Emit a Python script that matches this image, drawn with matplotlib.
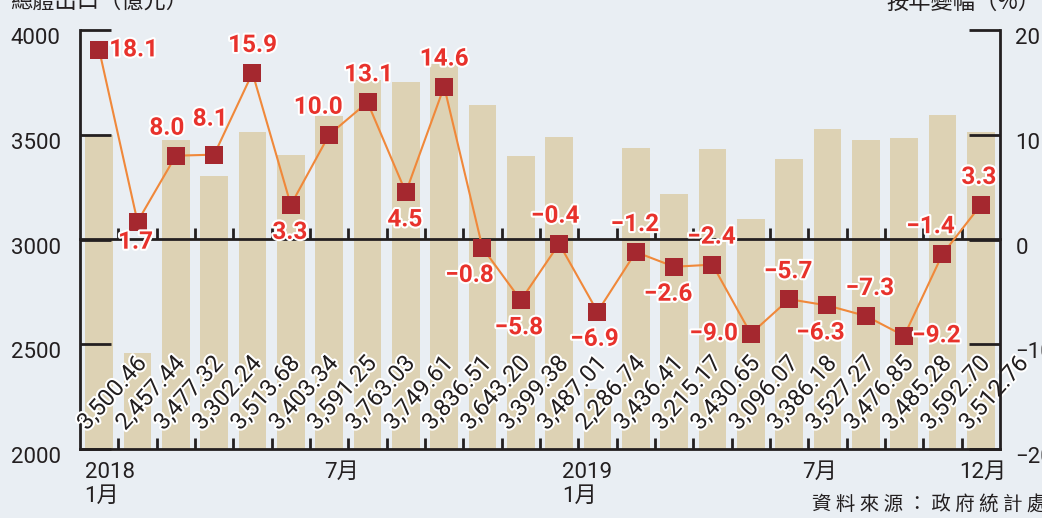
import matplotlib
matplotlib.use("Agg")
import matplotlib.pyplot as plt
import matplotlib.patheffects as pe
import matplotlib.transforms as mtransforms
from matplotlib import font_manager
import numpy as np

# 總體出口 (億元), 2018年1月 - 2019年12月
months = ["2018-01", "2018-02", "2018-03", "2018-04", "2018-05", "2018-06",
          "2018-07", "2018-08", "2018-09", "2018-10", "2018-11", "2018-12",
          "2019-01", "2019-02", "2019-03", "2019-04", "2019-05", "2019-06",
          "2019-07", "2019-08", "2019-09", "2019-10", "2019-11", "2019-12"]
exports = [3500.46, 2457.44, 3477.32, 3302.24, 3513.68, 3403.34,
           3591.25, 3763.03, 3749.61, 3836.51, 3643.20, 3399.38,
           3487.01, 2286.74, 3436.41, 3215.17, 3430.65, 3096.07,
           3386.18, 3527.27, 3476.85, 3485.28, 3592.70, 3512.76]
# 按年變幅 (%)
yoy = [18.1, 1.7, 8.0, 8.1, 15.9, 3.3, 10.0, 13.1, 4.5, 14.6, -0.8, -5.8,
       -0.4, -6.9, -1.2, -2.6, -2.4, -9.0, -5.7, -6.3, -7.3, -9.2, -1.4, 3.3]

xtick_text = ["2018\n1月", "7月", "2019\n1月", "7月", "12月"]

# where each red label sits relative to its marker (a=above, b=below, l=left, r=right)
label_side = ["r", "b", "a", "a", "a", "b", "a", "a", "b", "a", "b", "b",
              "a", "b", "a", "b", "a", "l", "a", "b", "a", "r", "a", "a"]
label_dx = [10, -2, -9, -4, 0, -1, -11, 1, -1, 0, -13, -2,
            -4, -3, -1, -6, -1, -13, -1, -7, 4, 8, -12, -2]

names = {f.name for f in font_manager.fontManager.ttflist}
NARROW = "Liberation Sans Narrow" if "Liberation Sans Narrow" in names else "Roboto"
CJK = "Noto Sans CJK TC"

BG = "#e9eef3"
BAR = "#ddd2b4"
MARK = "#a5282f"
RED = "#e8322c"
LINE = "#f0883a"
INK = "#231f20"

plt.rcParams["font.family"] = [NARROW, CJK, "DejaVu Sans"]

fig = plt.figure(figsize=(10.42, 5.18), dpi=100, facecolor=BG)
ax = fig.add_axes([80 / 1042, 1 - 449 / 518, 920 / 1042, 419 / 518])
ax.set_facecolor(BG)

x = np.arange(len(months))
ax.bar(x, exports, width=0.73, color=BAR, zorder=1)
ax.set_xlim(-0.5, len(months) - 0.5)
ax.set_ylim(2000, 4000)
ax.set_yticks([2000, 2500, 3000, 3500, 4000])

stroke_w = [pe.withStroke(linewidth=3, foreground="white")]
for i, v in enumerate(exports):
    ax.text(i - 0.32, 2085, f"{v:,.2f}", rotation=48, rotation_mode="anchor",
            ha="left", va="baseline", fontsize=17, color=INK,
            path_effects=stroke_w, zorder=3)

# x axis: label ticks and small marks between the bars
ax.set_xticks([0.27, 6.33, 12.73, 18.78, 23.06])
ax.set_xticklabels(xtick_text, multialignment="left", linespacing=1.2)
ax.set_xticks(x[:-1] + 0.5, minor=True)
ax.tick_params(axis="x", which="major", length=0, pad=9, labelsize=16, colors=INK)
ax.tick_params(axis="x", which="minor", direction="in", length=8, width=2, color=INK)
ax.tick_params(axis="y", direction="in", length=22, width=2, pad=14, labelsize=16,
               colors=INK)

for s in ["top", "right"]:
    ax.spines[s].set_visible(False)
for s in ["left", "bottom"]:
    ax.spines[s].set_linewidth(2)
    ax.spines[s].set_color(INK)

# zero line with its own tick marks
zero = ax.secondary_xaxis(0.5)
zero.set_xticks(x[:-1] + 0.5)
zero.set_xticklabels([])
zero.tick_params(direction="out", length=8, width=2, color=INK)
for s in zero.spines.values():
    s.set_linewidth(2)
    s.set_color(INK)
zero.set_zorder(2)

ax2 = ax.twinx()
ax2.set_ylim(-20, 20)
ax2.set_yticks([-20, -10, 0, 10, 20])
ax2.set_yticklabels([f"{t}".replace("-", "−") for t in [-20, -10, 0, 10, 20]])
ax2.tick_params(axis="y", direction="in", length=22, width=2, pad=11, labelsize=16,
                colors=INK)
for s in ["top", "left", "bottom"]:
    ax2.spines[s].set_visible(False)
ax2.spines["right"].set_linewidth(2)
ax2.spines["right"].set_color(INK)

# the value labels on both y axes sit a little below their ticks
shift = mtransforms.ScaledTranslation(0, -0.06, fig.dpi_scale_trans)
for lab in ax.get_yticklabels() + ax2.get_yticklabels():
    lab.set_transform(lab.get_transform() + shift)

ax2.plot(x, yoy, color=LINE, lw=1.5, zorder=2)
ax2.plot(x, yoy, ls="none", marker="s", ms=13.5, color=MARK, mew=0, zorder=3)

px = 0.72  # points per pixel
for i, v in enumerate(yoy):
    side = label_side[i]
    dx = label_dx[i] * px
    if side == "a":
        off, ha, va = (dx, 16 * px), "center", "bottom"
    elif side == "b":
        off, ha, va = (dx, -16 * px), "center", "top"
    elif side == "l":
        off, ha, va = (dx, 0), "right", "center"
    else:
        off, ha, va = (dx, 0), "left", "center"
    if i == 1:
        off = (dx, -9 * px)
    if i == 3:
        off = (dx, 24 * px)
    ax2.annotate(f"{v:.1f}".replace("-", "−"), (i, v), xytext=off,
                 textcoords="offset points", ha=ha, va=va, fontsize=17.5,
                 fontweight="bold", color=RED, path_effects=stroke_w, zorder=4)

fig.text(10 / 1042, 1 - 13 / 518, "總體出口（億元）", family=[CJK], fontsize=16,
         color=INK, ha="left", va="bottom")
fig.text(1040 / 1042, 1 - 14 / 518, "按年變幅（%）", family=[CJK], fontsize=16,
         color=INK, ha="right", va="bottom")
fig.text(812 / 1042, 1 - 505 / 518, " ".join("資料來源：政府統計處"), family=[CJK],
         fontsize=14, color=INK, ha="left", va="center")

fig.savefig("out.png", dpi=100, facecolor=BG)
